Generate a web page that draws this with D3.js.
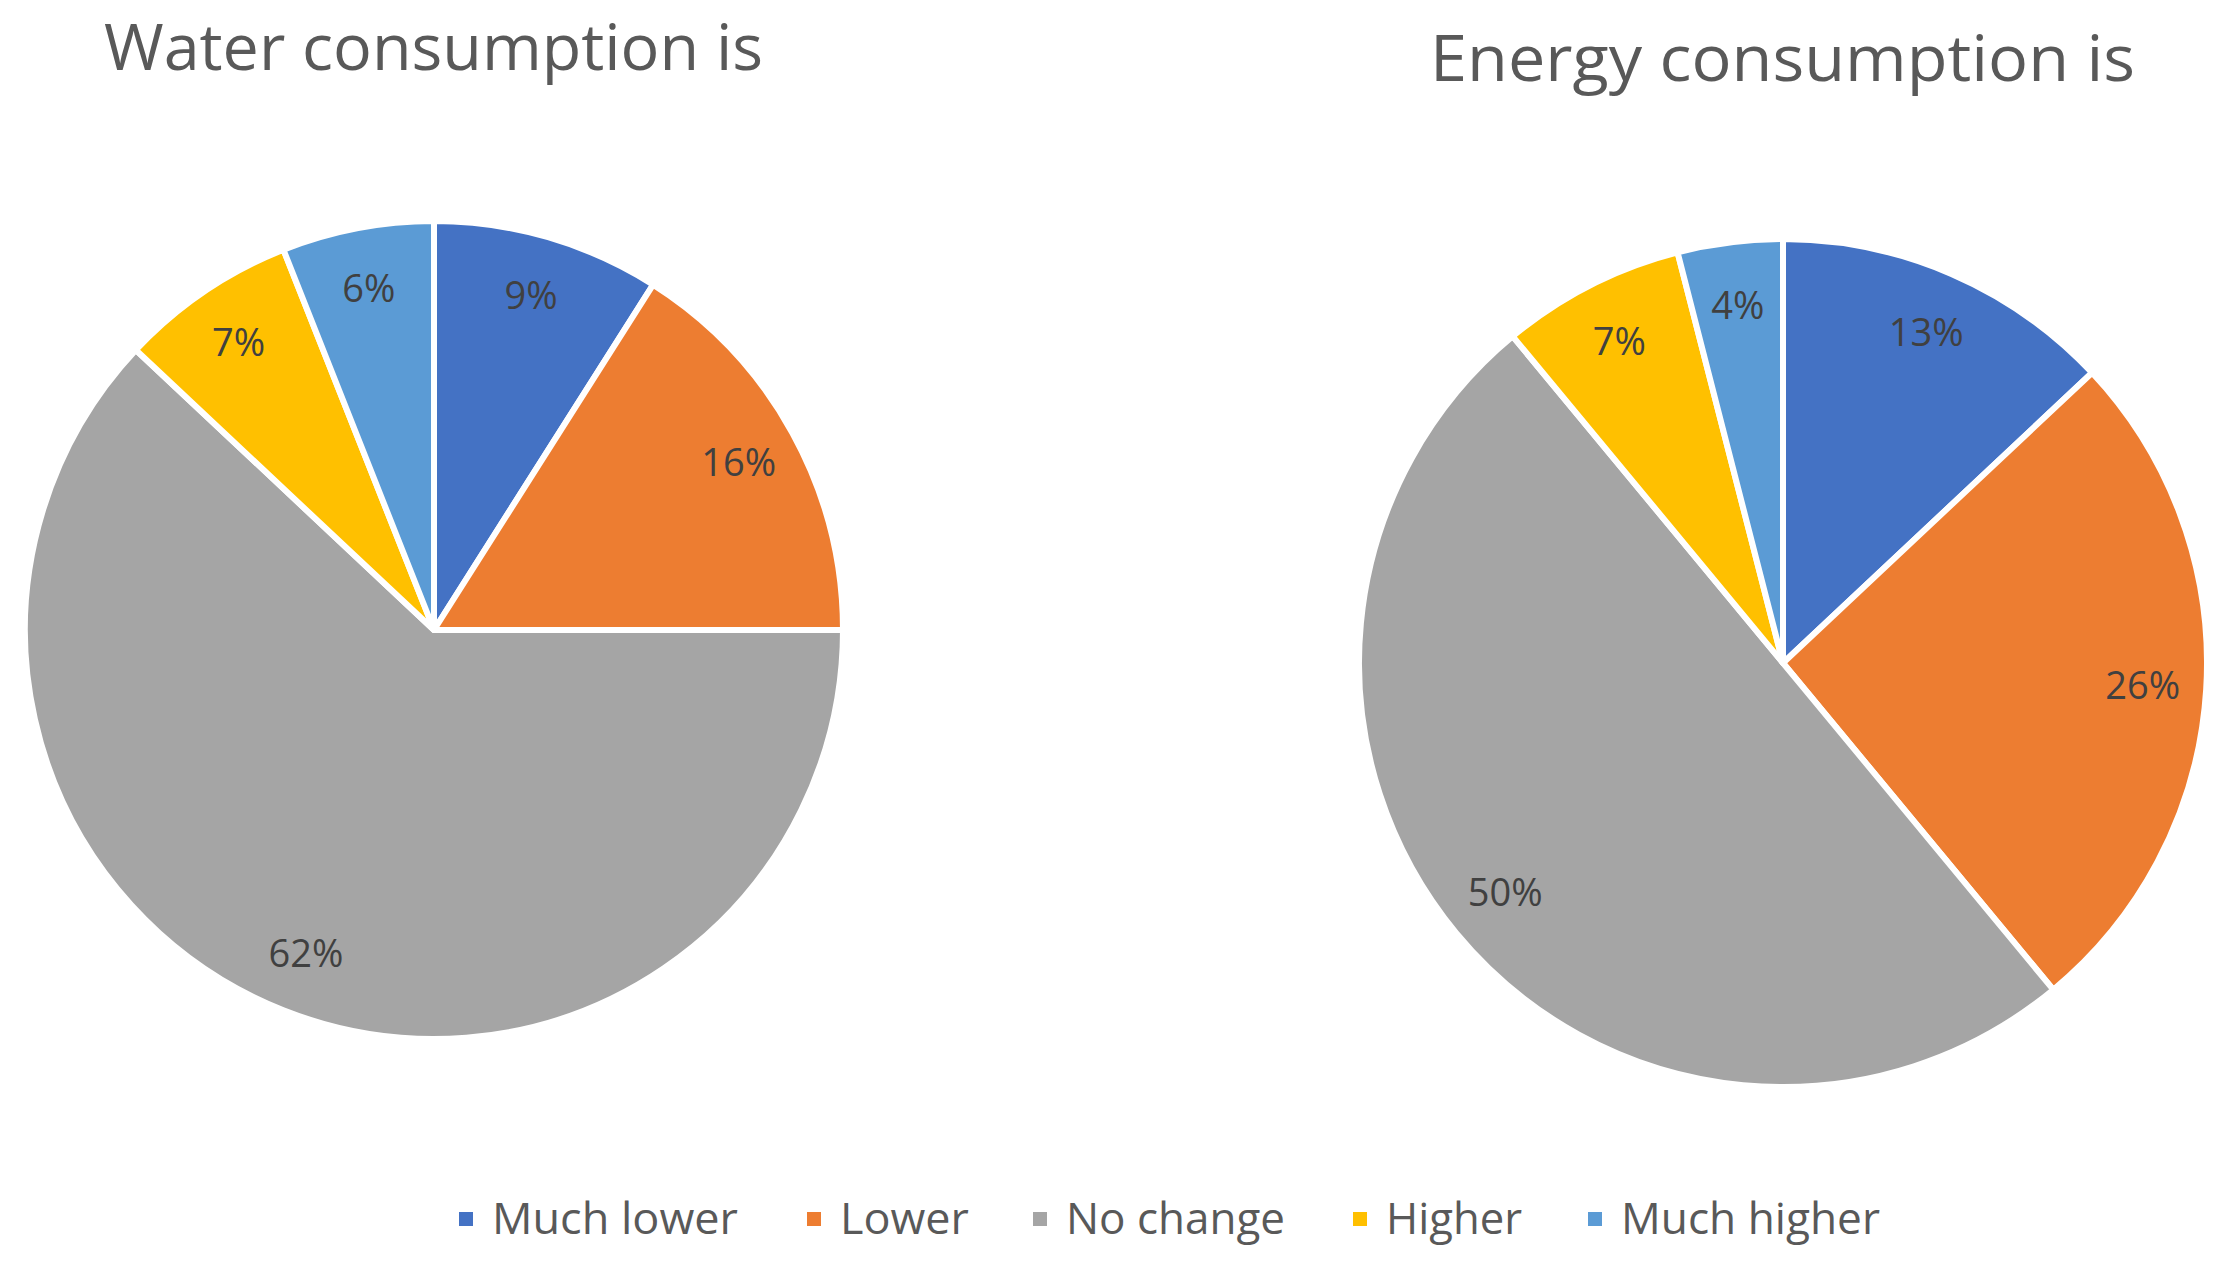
<!DOCTYPE html>
<html>
<head>
<meta charset="utf-8">
<script src="https://cdn.jsdelivr.net/npm/d3@7"></script>
<style>
  body { margin: 0; background: #fff; }
  svg { display: block; font-family: "Open Sans", "Noto Sans", sans-serif; }
</style>
</head>
<body>
<svg id="chart" width="2225" height="1267"></svg>
<script>
// categories and values (percent)
const categories = ["Much lower", "Lower", "No change", "Higher", "Much higher"];
const waterValues = [9, 16, 62, 7, 6];
const energyValues = [13, 26, 50, 7, 4];
const colors = ["#4472C4", "#ED7D31", "#A5A5A5", "#FFC000", "#5B9BD5"];

const svg = d3.select("#chart");

const color = d3.scaleOrdinal().domain(categories).range(colors);

const pie = d3.pie().sort(null).value(d => d.value);

// one pie per panel
const panels = [
  { title: "Water consumption is", values: waterValues, cx: 434, cy: 630, r: 409,
    tx: 104, ty: 70, tw: 659 },
  { title: "Energy consumption is", values: energyValues, cx: 1783, cy: 663, r: 424,
    tx: 1430, ty: 81, tw: 705 }
];

panels.forEach(p => {
  const rows = categories.map((c, i) => ({ cat: c, value: p.values[i] }));
  const arcs = pie(rows);
  const arc = d3.arc().innerRadius(0).outerRadius(p.r);
  const labelArc = d3.arc().innerRadius(p.r * 0.85).outerRadius(p.r * 0.85);

  const g = svg.append("g").attr("transform", `translate(${p.cx},${p.cy})`);

  g.selectAll("path")
    .data(arcs)
    .enter()
    .append("path")
    .attr("d", arc)
    .attr("fill", d => color(d.data.cat))
    .attr("stroke", "#fff")
    .attr("stroke-width", 6)
    .attr("stroke-linejoin", "round");

  g.selectAll("text.lbl")
    .data(arcs)
    .enter()
    .append("text")
    .attr("class", "lbl")
    .attr("transform", d => `translate(${labelArc.centroid(d)})`)
    .attr("text-anchor", "middle")
    .attr("dy", "0.35em")
    .attr("font-size", 38)
    .attr("fill", "#404040")
    .text(d => d.data.value + "%");

  svg.append("text")
    .attr("x", p.tx)
    .attr("y", p.ty)
    .attr("font-size", 64)
    .attr("fill", "#595959")
    .attr("textLength", p.tw)
    .attr("lengthAdjust", "spacingAndGlyphs")
    .text(p.title);
});

// legend
const legendX = [466, 814, 1040, 1360, 1595];
const legendW = [246, 129, 219, 136, 259];
const legend = svg.append("g");
categories.forEach((c, i) => {
  legend.append("rect")
    .attr("x", legendX[i] - 7)
    .attr("y", 1219 - 7)
    .attr("width", 14)
    .attr("height", 14)
    .attr("fill", color(c));
  legend.append("text")
    .attr("x", legendX[i] + 26)
    .attr("y", 1219)
    .attr("dy", "0.35em")
    .attr("font-size", 44)
    .attr("fill", "#595959")
    .attr("textLength", legendW[i])
    .attr("lengthAdjust", "spacingAndGlyphs")
    .text(c);
});
</script>
</body>
</html>
